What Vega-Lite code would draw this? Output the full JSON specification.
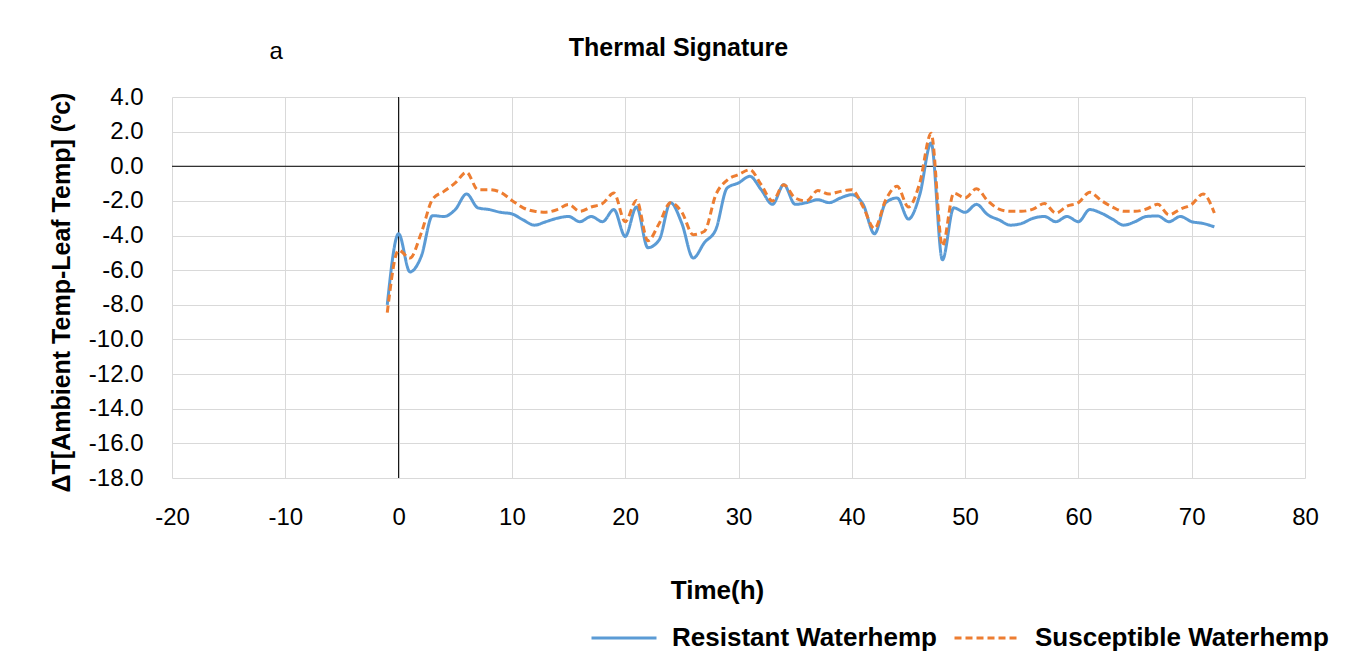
{
  "$schema": "https://vega.github.io/schema/vega-lite/v6.json",
  "autosize": {"type": "none"},
  "padding": {"left": 172, "top": 97, "right": 44, "bottom": 186},
  "width": 1133,
  "height": 381,
  "background": "white",
  "title": {"text": "Thermal Signature", "fontSize": 25, "font": "Liberation Sans", "fontWeight": "bold", "color": "#000", "dx": -60, "offset": -46, "frame": "group", "baseline": "bottom"},
  "config": {
    "view": {"stroke": null},
    "axis": {"grid": true, "gridColor": "#d9d9d9", "gridWidth": 1, "domain": false, "ticks": false, "labelOverlap": false, "labelFlush": false, "labelColor": "#000", "labelFont": "Liberation Sans", "labelFontSize": 24, "titleColor": "#000", "titleFont": "Liberation Sans", "titleFontWeight": "bold", "titleFontSize": 25}
  },
  "datasets": {
    "series": [
      {"t": -1, "series": "Resistant Waterhemp", "v": -8.0},
      {"t": 0, "series": "Resistant Waterhemp", "v": -3.9},
      {"t": 1, "series": "Resistant Waterhemp", "v": -6.1},
      {"t": 2, "series": "Resistant Waterhemp", "v": -5.2},
      {"t": 3, "series": "Resistant Waterhemp", "v": -2.85},
      {"t": 4, "series": "Resistant Waterhemp", "v": -2.9},
      {"t": 5, "series": "Resistant Waterhemp", "v": -2.5},
      {"t": 6, "series": "Resistant Waterhemp", "v": -1.6},
      {"t": 7, "series": "Resistant Waterhemp", "v": -2.4},
      {"t": 8, "series": "Resistant Waterhemp", "v": -2.5},
      {"t": 9, "series": "Resistant Waterhemp", "v": -2.66},
      {"t": 10, "series": "Resistant Waterhemp", "v": -2.75},
      {"t": 11, "series": "Resistant Waterhemp", "v": -3.1},
      {"t": 12, "series": "Resistant Waterhemp", "v": -3.4},
      {"t": 13, "series": "Resistant Waterhemp", "v": -3.2},
      {"t": 14, "series": "Resistant Waterhemp", "v": -3.0},
      {"t": 15, "series": "Resistant Waterhemp", "v": -2.9},
      {"t": 16, "series": "Resistant Waterhemp", "v": -3.2},
      {"t": 17, "series": "Resistant Waterhemp", "v": -2.9},
      {"t": 18, "series": "Resistant Waterhemp", "v": -3.2},
      {"t": 19, "series": "Resistant Waterhemp", "v": -2.5},
      {"t": 20, "series": "Resistant Waterhemp", "v": -4.05},
      {"t": 21, "series": "Resistant Waterhemp", "v": -2.35},
      {"t": 22, "series": "Resistant Waterhemp", "v": -4.7},
      {"t": 23, "series": "Resistant Waterhemp", "v": -4.25},
      {"t": 24, "series": "Resistant Waterhemp", "v": -2.1},
      {"t": 25, "series": "Resistant Waterhemp", "v": -3.3},
      {"t": 26, "series": "Resistant Waterhemp", "v": -5.3},
      {"t": 27, "series": "Resistant Waterhemp", "v": -4.4},
      {"t": 28, "series": "Resistant Waterhemp", "v": -3.65},
      {"t": 29, "series": "Resistant Waterhemp", "v": -1.25},
      {"t": 30, "series": "Resistant Waterhemp", "v": -0.96},
      {"t": 31, "series": "Resistant Waterhemp", "v": -0.58},
      {"t": 32, "series": "Resistant Waterhemp", "v": -1.35},
      {"t": 33, "series": "Resistant Waterhemp", "v": -2.2},
      {"t": 34, "series": "Resistant Waterhemp", "v": -1.06},
      {"t": 35, "series": "Resistant Waterhemp", "v": -2.2},
      {"t": 36, "series": "Resistant Waterhemp", "v": -2.1},
      {"t": 37, "series": "Resistant Waterhemp", "v": -1.93},
      {"t": 38, "series": "Resistant Waterhemp", "v": -2.1},
      {"t": 39, "series": "Resistant Waterhemp", "v": -1.83},
      {"t": 40, "series": "Resistant Waterhemp", "v": -1.64},
      {"t": 41, "series": "Resistant Waterhemp", "v": -2.2},
      {"t": 42, "series": "Resistant Waterhemp", "v": -3.9},
      {"t": 43, "series": "Resistant Waterhemp", "v": -2.1},
      {"t": 44, "series": "Resistant Waterhemp", "v": -1.83},
      {"t": 45, "series": "Resistant Waterhemp", "v": -3.05},
      {"t": 46, "series": "Resistant Waterhemp", "v": -1.64},
      {"t": 47, "series": "Resistant Waterhemp", "v": 1.35},
      {"t": 48, "series": "Resistant Waterhemp", "v": -5.4},
      {"t": 49, "series": "Resistant Waterhemp", "v": -2.4},
      {"t": 50, "series": "Resistant Waterhemp", "v": -2.66},
      {"t": 51, "series": "Resistant Waterhemp", "v": -2.2},
      {"t": 52, "series": "Resistant Waterhemp", "v": -2.8},
      {"t": 53, "series": "Resistant Waterhemp", "v": -3.1},
      {"t": 54, "series": "Resistant Waterhemp", "v": -3.4},
      {"t": 55, "series": "Resistant Waterhemp", "v": -3.3},
      {"t": 56, "series": "Resistant Waterhemp", "v": -3.0},
      {"t": 57, "series": "Resistant Waterhemp", "v": -2.9},
      {"t": 58, "series": "Resistant Waterhemp", "v": -3.2},
      {"t": 59, "series": "Resistant Waterhemp", "v": -2.9},
      {"t": 60, "series": "Resistant Waterhemp", "v": -3.2},
      {"t": 61, "series": "Resistant Waterhemp", "v": -2.5},
      {"t": 62, "series": "Resistant Waterhemp", "v": -2.7},
      {"t": 63, "series": "Resistant Waterhemp", "v": -3.05},
      {"t": 64, "series": "Resistant Waterhemp", "v": -3.4},
      {"t": 65, "series": "Resistant Waterhemp", "v": -3.2},
      {"t": 66, "series": "Resistant Waterhemp", "v": -2.9},
      {"t": 67, "series": "Resistant Waterhemp", "v": -2.87},
      {"t": 68, "series": "Resistant Waterhemp", "v": -3.2},
      {"t": 69, "series": "Resistant Waterhemp", "v": -2.9},
      {"t": 70, "series": "Resistant Waterhemp", "v": -3.2},
      {"t": 71, "series": "Resistant Waterhemp", "v": -3.3},
      {"t": 72, "series": "Resistant Waterhemp", "v": -3.5},
      {"t": -1, "series": "Susceptible Waterhemp", "v": -8.45},
      {"t": 0, "series": "Susceptible Waterhemp", "v": -4.85},
      {"t": 1, "series": "Susceptible Waterhemp", "v": -5.3},
      {"t": 2, "series": "Susceptible Waterhemp", "v": -3.85},
      {"t": 3, "series": "Susceptible Waterhemp", "v": -1.9},
      {"t": 4, "series": "Susceptible Waterhemp", "v": -1.45},
      {"t": 5, "series": "Susceptible Waterhemp", "v": -0.96},
      {"t": 6, "series": "Susceptible Waterhemp", "v": -0.35},
      {"t": 7, "series": "Susceptible Waterhemp", "v": -1.35},
      {"t": 8, "series": "Susceptible Waterhemp", "v": -1.35},
      {"t": 9, "series": "Susceptible Waterhemp", "v": -1.5},
      {"t": 10, "series": "Susceptible Waterhemp", "v": -1.97},
      {"t": 11, "series": "Susceptible Waterhemp", "v": -2.4},
      {"t": 12, "series": "Susceptible Waterhemp", "v": -2.6},
      {"t": 13, "series": "Susceptible Waterhemp", "v": -2.65},
      {"t": 14, "series": "Susceptible Waterhemp", "v": -2.5},
      {"t": 15, "series": "Susceptible Waterhemp", "v": -2.2},
      {"t": 16, "series": "Susceptible Waterhemp", "v": -2.6},
      {"t": 17, "series": "Susceptible Waterhemp", "v": -2.35},
      {"t": 18, "series": "Susceptible Waterhemp", "v": -2.15},
      {"t": 19, "series": "Susceptible Waterhemp", "v": -1.55},
      {"t": 20, "series": "Susceptible Waterhemp", "v": -3.2},
      {"t": 21, "series": "Susceptible Waterhemp", "v": -1.97},
      {"t": 22, "series": "Susceptible Waterhemp", "v": -4.3},
      {"t": 23, "series": "Susceptible Waterhemp", "v": -3.3},
      {"t": 24, "series": "Susceptible Waterhemp", "v": -2.1},
      {"t": 25, "series": "Susceptible Waterhemp", "v": -2.65},
      {"t": 26, "series": "Susceptible Waterhemp", "v": -3.95},
      {"t": 27, "series": "Susceptible Waterhemp", "v": -3.75},
      {"t": 28, "series": "Susceptible Waterhemp", "v": -1.64},
      {"t": 29, "series": "Susceptible Waterhemp", "v": -0.8},
      {"t": 30, "series": "Susceptible Waterhemp", "v": -0.48},
      {"t": 31, "series": "Susceptible Waterhemp", "v": -0.2},
      {"t": 32, "series": "Susceptible Waterhemp", "v": -1.06},
      {"t": 33, "series": "Susceptible Waterhemp", "v": -2.0},
      {"t": 34, "series": "Susceptible Waterhemp", "v": -1.06},
      {"t": 35, "series": "Susceptible Waterhemp", "v": -1.83},
      {"t": 36, "series": "Susceptible Waterhemp", "v": -2.0},
      {"t": 37, "series": "Susceptible Waterhemp", "v": -1.4},
      {"t": 38, "series": "Susceptible Waterhemp", "v": -1.6},
      {"t": 39, "series": "Susceptible Waterhemp", "v": -1.45},
      {"t": 40, "series": "Susceptible Waterhemp", "v": -1.35},
      {"t": 41, "series": "Susceptible Waterhemp", "v": -2.35},
      {"t": 42, "series": "Susceptible Waterhemp", "v": -3.6},
      {"t": 43, "series": "Susceptible Waterhemp", "v": -1.93},
      {"t": 44, "series": "Susceptible Waterhemp", "v": -1.16},
      {"t": 45, "series": "Susceptible Waterhemp", "v": -2.35},
      {"t": 46, "series": "Susceptible Waterhemp", "v": -0.96},
      {"t": 47, "series": "Susceptible Waterhemp", "v": 1.9},
      {"t": 48, "series": "Susceptible Waterhemp", "v": -4.6},
      {"t": 49, "series": "Susceptible Waterhemp", "v": -1.55},
      {"t": 50, "series": "Susceptible Waterhemp", "v": -1.83},
      {"t": 51, "series": "Susceptible Waterhemp", "v": -1.3},
      {"t": 52, "series": "Susceptible Waterhemp", "v": -2.0},
      {"t": 53, "series": "Susceptible Waterhemp", "v": -2.47},
      {"t": 54, "series": "Susceptible Waterhemp", "v": -2.6},
      {"t": 55, "series": "Susceptible Waterhemp", "v": -2.6},
      {"t": 56, "series": "Susceptible Waterhemp", "v": -2.47},
      {"t": 57, "series": "Susceptible Waterhemp", "v": -2.15},
      {"t": 58, "series": "Susceptible Waterhemp", "v": -2.7},
      {"t": 59, "series": "Susceptible Waterhemp", "v": -2.3},
      {"t": 60, "series": "Susceptible Waterhemp", "v": -2.1},
      {"t": 61, "series": "Susceptible Waterhemp", "v": -1.5},
      {"t": 62, "series": "Susceptible Waterhemp", "v": -1.97},
      {"t": 63, "series": "Susceptible Waterhemp", "v": -2.35},
      {"t": 64, "series": "Susceptible Waterhemp", "v": -2.6},
      {"t": 65, "series": "Susceptible Waterhemp", "v": -2.6},
      {"t": 66, "series": "Susceptible Waterhemp", "v": -2.47},
      {"t": 67, "series": "Susceptible Waterhemp", "v": -2.2},
      {"t": 68, "series": "Susceptible Waterhemp", "v": -2.8},
      {"t": 69, "series": "Susceptible Waterhemp", "v": -2.47},
      {"t": 70, "series": "Susceptible Waterhemp", "v": -2.2},
      {"t": 71, "series": "Susceptible Waterhemp", "v": -1.6},
      {"t": 72, "series": "Susceptible Waterhemp", "v": -2.7}
    ]
  },
  "layer": [
    {
      "data": {"values": [{}]},
      "mark": {"type": "rule", "color": "#000", "strokeWidth": 1},
      "encoding": {"x": {"datum": 0, "type": "quantitative"}}
    },
    {
      "data": {"values": [{}]},
      "mark": {"type": "rule", "color": "#000", "strokeWidth": 1},
      "encoding": {"y": {"datum": 0, "type": "quantitative"}}
    },
    {
      "data": {"name": "series"},
      "mark": {"type": "line", "interpolate": "monotone", "strokeWidth": 3},
      "encoding": {
        "x": {
          "field": "t", "type": "quantitative",
          "scale": {"domain": [-20, 80], "nice": false, "zero": false},
          "axis": {"values": [-20, -10, 0, 10, 20, 30, 40, 50, 60, 70, 80], "labelOverlap": false, "labelFlush": false, "labelPadding": 27, "labelExpr": "replace(format(datum.value, 'd'), '\u2212', '-')", "title": "Time(h)", "titleFontSize": 26, "titleX": 545, "titleY": 112, "titleBaseline": "middle", "titleAnchor": null}
        },
        "y": {
          "field": "v", "type": "quantitative",
          "scale": {"domain": [-18, 4], "nice": false, "zero": false},
          "axis": {"tickCount": 12, "labelOverlap": false, "labelSeparation": -30, "labelFlush": false, "labelPadding": 29, "labelExpr": "replace(format(datum.value, '.1f'), '\u2212', '-')", "title": "ΔT[Ambient Temp-Leaf Temp] (ºc)", "titleX": -111, "titleY": 195, "titleAngle": -90, "titleBaseline": "middle", "titleAnchor": null}
        },
        "color": {
          "field": "series", "type": "nominal",
          "scale": {"domain": ["Resistant Waterhemp", "Susceptible Waterhemp"], "range": ["#5B9BD5", "#ED7D31"]},
          "legend": {"orient": "none", "legendX": 418, "legendY": 507, "direction": "horizontal", "title": null, "symbolType": "stroke", "symbolStrokeWidth": 3, "symbolSize": 4225, "labelFontSize": 26, "labelFont": "Liberation Sans", "labelFontWeight": "bold", "labelColor": "#000", "labelLimit": 400, "columnPadding": 11, "labelOffset": 14}
        },
        "strokeDash": {
          "field": "series", "type": "nominal",
          "scale": {"domain": ["Resistant Waterhemp", "Susceptible Waterhemp"], "range": [[1, 0], [7, 4]]},
          "legend": {"orient": "none", "legendX": 418, "legendY": 507, "direction": "horizontal", "title": null, "symbolType": "stroke", "symbolStrokeWidth": 3, "symbolSize": 4225, "labelFontSize": 26, "labelFont": "Liberation Sans", "labelFontWeight": "bold", "labelColor": "#000", "labelLimit": 400, "columnPadding": 11, "labelOffset": 14}
        }
      }
    },
    {
      "data": {"values": [{}]},
      "mark": {"type": "text", "text": "a", "fontSize": 24, "font": "Liberation Sans", "color": "#000", "baseline": "middle", "align": "center"},
      "encoding": {"x": {"datum": -10.8, "type": "quantitative"}, "y": {"datum": 6.6, "type": "quantitative"}}
    }
  ]
}
